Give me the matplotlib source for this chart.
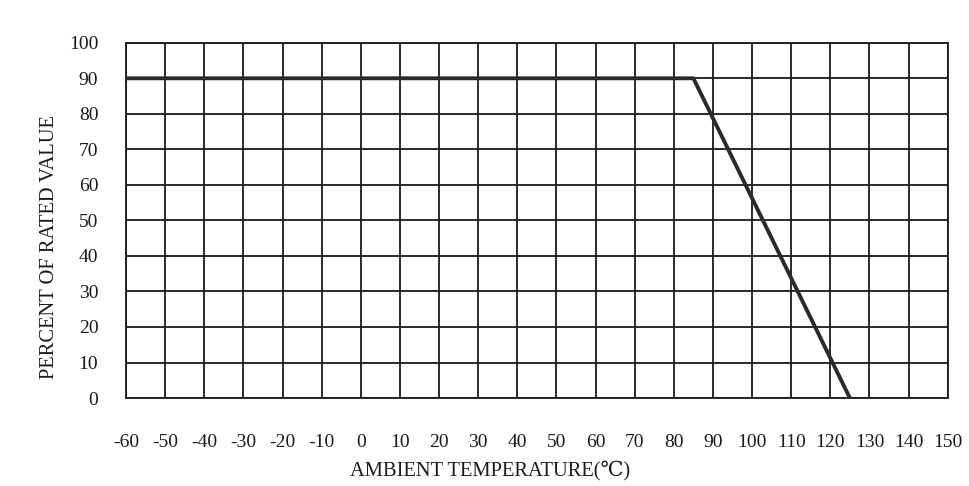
import numpy as np
import matplotlib
matplotlib.use('Agg')
import matplotlib.pyplot as plt

plt.rcParams['font.family'] = ['Liberation Serif', 'DejaVu Serif']

# derating curve
temp = [-60, 85, 125]
percent = [90, 90, 0]

x_ticks = list(range(-60, 151, 10))
y_ticks = list(range(0, 101, 10))

fig = plt.figure(figsize=(9.7, 4.86), dpi=100)
ax = fig.add_axes([0.130, 0.181, 0.847, 0.731])

ax.plot(temp, percent, color='#2a2a2a', linewidth=2.8, solid_capstyle='butt', zorder=3)

ax.set_xlim(-60, 150)
ax.set_ylim(0, 100)
ax.set_xticks(x_ticks)
ax.set_yticks(y_ticks)
ax.set_xticklabels([str(t) for t in x_ticks])
ax.set_yticklabels([str(t) for t in y_ticks])
ax.grid(True, color='#1a1a1a', linewidth=1.3)
for s in ax.spines.values():
    s.set_color('#1a1a1a')
    s.set_linewidth(1.3)
ax.tick_params(axis='x', length=0, pad=26, labelsize=14, colors='#1a1a1a')
ax.tick_params(axis='y', length=0, pad=20, labelsize=14, colors='#1a1a1a')

ax.set_xlabel('AMBIENT TEMPERATURE(℃)', fontsize=14.8, color='#1a1a1a')
ax.set_ylabel('PERCENT OF RATED VALUE', fontsize=14.8, color='#1a1a1a')
ax.xaxis.set_label_coords(0.443, -0.175)
ax.yaxis.set_label_coords(-0.082, 0.425)

fig.savefig('out.png', dpi=100)
